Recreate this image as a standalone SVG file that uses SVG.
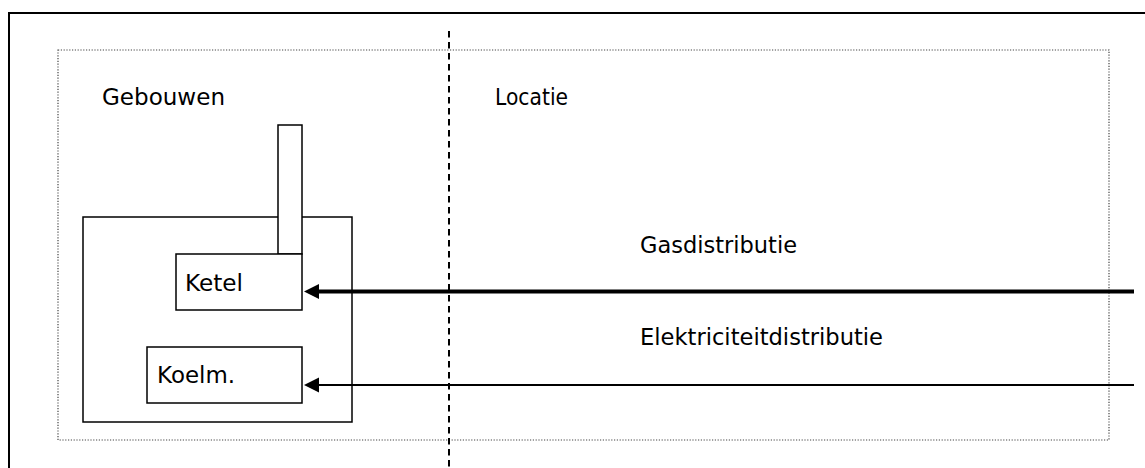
<svg xmlns="http://www.w3.org/2000/svg" width="1145" height="468" viewBox="0 0 1145 468">
  <style>
    .box { fill: #fff; stroke: #000; stroke-width: 1.5; }
    .lbl { font-family: "DejaVu Sans", Verdana, sans-serif; font-size: 23px; fill: #000; }
    .wire { stroke: #000; fill: none; }
  </style>
  <rect width="1145" height="468" fill="#fff"/>

  <!-- outer frame -->
  <rect id="frame" x="9" y="13" width="1150" height="470" fill="none" stroke="#000" stroke-width="2"/>

  <!-- site boundary -->
  <g id="site">
    <rect x="58" y="50" width="1051" height="390" fill="none" stroke="#444" stroke-width="1.2" stroke-dasharray="1.2 1.6"/>
  </g>

  <!-- divider between buildings and location -->
  <g id="divider">
    <line x1="449" y1="31" x2="449" y2="468" stroke="#000" stroke-width="2" stroke-dasharray="6.5 4.5"/>
  </g>

  <g id="gebouwen-label"><text class="lbl" x="102" y="105" textLength="123" lengthAdjust="spacingAndGlyphs">Gebouwen</text></g>
  <g id="locatie-label"><text class="lbl" x="495" y="105" textLength="73" lengthAdjust="spacingAndGlyphs">Locatie</text></g>

  <!-- building with boiler, chimney and chiller -->
  <g id="gebouw">
    <rect class="box" x="83" y="217" width="269" height="205"/>
  </g>
  <g id="schoorsteen">
    <rect class="box" x="278" y="125" width="24" height="129"/>
  </g>
  <g id="ketel">
    <rect class="box" x="176" y="254" width="126" height="56"/>
    <text class="lbl" x="185" y="291" textLength="58" lengthAdjust="spacingAndGlyphs">Ketel</text>
  </g>
  <g id="koelm">
    <rect class="box" x="147" y="347" width="155" height="56"/>
    <text class="lbl" x="157" y="383" textLength="78" lengthAdjust="spacingAndGlyphs">Koelm.</text>
  </g>

  <g id="gas-label"><text class="lbl" x="640" y="253" textLength="157" lengthAdjust="spacingAndGlyphs">Gasdistributie</text></g>
  <g id="elec-label"><text class="lbl" x="640" y="345" textLength="243" lengthAdjust="spacingAndGlyphs">Elektriciteitdistributie</text></g>

  <!-- supply lines -->
  <g id="connectors">
    <line class="wire" x1="1134" y1="291.5" x2="318" y2="291.5" stroke-width="4"/>
    <path d="M304,291.5 L319,284 L319,299 Z" fill="#000"/>
    <line class="wire" x1="1134" y1="385" x2="318" y2="385" stroke-width="1.8"/>
    <path d="M304,385 L319,377.5 L319,392.5 Z" fill="#000"/>
  </g>
</svg>
